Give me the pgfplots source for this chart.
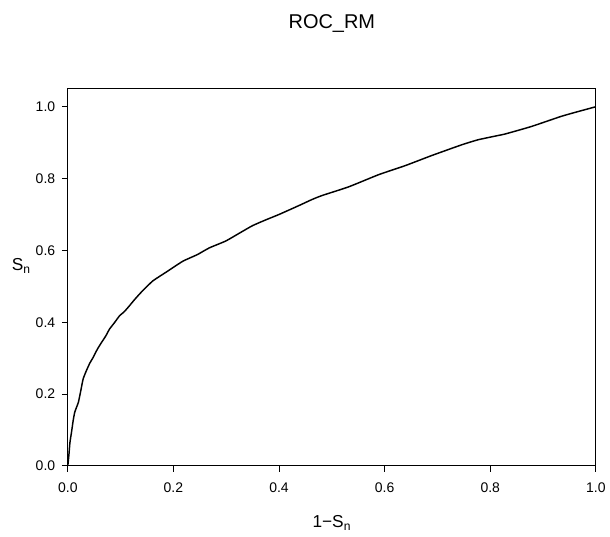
\documentclass[border=0pt]{standalone}
\usepackage{fontspec}
\setmainfont{Liberation Sans}
\usepackage{pgfplots}
\pgfplotsset{compat=1.18}

\pgfplotstableread{
x y
0 0
0.002 0.03
0.004 0.065
0.007 0.094
0.010 0.125
0.013 0.149
0.017 0.165
0.020 0.177
0.024 0.205
0.029 0.242
0.036 0.268
0.042 0.287
0.048 0.302
0.056 0.325
0.064 0.344
0.072 0.362
0.079 0.381
0.088 0.398
0.098 0.418
0.106 0.428
0.114 0.441
0.127 0.464
0.140 0.485
0.161 0.515
0.190 0.543
0.218 0.570
0.245 0.588
0.268 0.607
0.299 0.626
0.325 0.648
0.350 0.669
0.375 0.685
0.400 0.700
0.438 0.725
0.463 0.742
0.482 0.753
0.532 0.777
0.589 0.811
0.639 0.836
0.689 0.864
0.746 0.894
0.777 0.908
0.812 0.919
0.828 0.924
0.878 0.945
0.934 0.973
0.965 0.986
1.000 1.000
}\rocdata

\begin{document}
\begin{tikzpicture}
\begin{axis}[
  name=ax,
  scale only axis,
  width=397pt, height=283.5pt,
  xmin=0, xmax=1, ymin=0, ymax=1.05,
  xtick={0,0.2,...,1.0}, ytick={0,0.2,...,1.0},
  tick pos=left, tick align=outside,
  major tick length=4.5pt,
  axis line style={line width=0.75pt},
  every tick/.style={black, line width=0.75pt},
  /pgf/number format/.cd, fixed, fixed zerofill, precision=1, assume math mode=true,
  /pgfplots/.cd,
  ticklabel style={font=\fontsize{10.5}{12}\selectfont},
  xticklabel style={yshift=-5pt},
  yticklabel style={xshift=-1.5pt},
  title={ROC\_RM},
  title style={font=\fontsize{15}{18}\selectfont, at={(axis description cs:0.5,1.152)}, anchor=center},
  xlabel={1−S\textsubscript{n}},
  xlabel style={font=\fontsize{13}{15}\selectfont, at={(axis description cs:0.5,-0.152)}, anchor=center},
  ylabel={S\textsubscript{n}},
  ylabel style={font=\fontsize{13}{15}\selectfont, rotate=-90, at={(axis description cs:-0.088,0.53)}, anchor=center},
]
\addplot[black, line width=1.1pt, smooth, tension=0.3] table[x=x, y=y] {\rocdata};
\end{axis}
\useasboundingbox ([xshift=-51pt, yshift=-53.25pt]ax.south west) rectangle ([xshift=9.4pt, yshift=66.75pt]ax.north east);
\end{tikzpicture}
\end{document}
